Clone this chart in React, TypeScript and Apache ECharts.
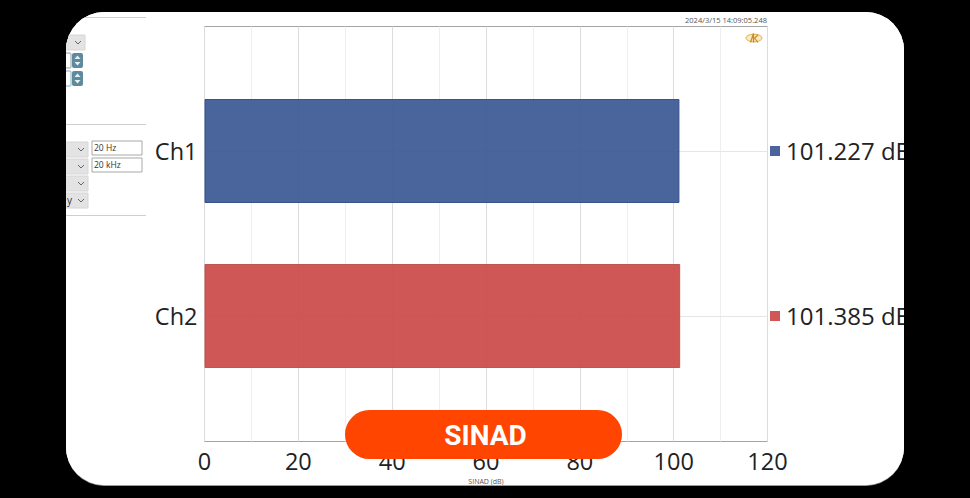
import React, { useEffect, useRef } from "react";
import * as echarts from "echarts";

const categories = ["Ch1", "Ch2"];
const sinadValues = [101.227, 101.385];
const barColors = ["#3a5893", "#cb4946"];
const legendColors = ["#4a659c", "#cf5855"];
const barBorders = ["#2f4c86", "#bb4f4c"];
const readouts = ["101.227 dB", "101.385 dB"];
const xTicks = [0, 20, 40, 60, 80, 100, 120];
const xAxisTitle = "SINAD (dB)";
const timestamp = "2024/3/15 14:09:05.248";
const badge = "SINAD";
const freqLow = "20 Hz";
const freqHigh = "20 kHz";

const OX = 66;
const OY = 12;
const W = 838;
const H = 473;
const FONT = "'Open Sans', 'Noto Sans', sans-serif";

function dropdown(x: number, y: number, w: number, text?: string) {
  const items: any[] = [
    { type: "rect", shape: { x, y, width: w, height: 15 }, style: { fill: "#e3e3e3", stroke: "#d6d6d6", lineWidth: 1 } },
    { type: "polyline", shape: { points: [[x + w - 10, y + 6], [x + w - 7, y + 9], [x + w - 4, y + 6]] }, style: { fill: "none", stroke: "#666", lineWidth: 1 } },
  ];
  if (text) items.push({ type: "text", x: 1, y: y + 2, style: { text, font: `10px ${FONT}`, fill: "#333" } });
  return items;
}

function spinner(x: number, y: number) {
  return [
    { type: "rect", shape: { x, y, width: 11, height: 15, r: 2 }, style: { fill: "#5f8a9e" } },
    { type: "polygon", shape: { points: [[x + 2.5, y + 6], [x + 5.5, y + 2.5], [x + 8.5, y + 6]] }, style: { fill: "#e8f0f4" } },
    { type: "polygon", shape: { points: [[x + 2.5, y + 9], [x + 5.5, y + 12.5], [x + 8.5, y + 9]] }, style: { fill: "#e8f0f4" } },
  ];
}

function inputBox(x: number, y: number, text: string) {
  return [
    { type: "rect", shape: { x, y, width: 50, height: 14 }, style: { fill: "#fff", stroke: "#a8a8a8", lineWidth: 1 } },
    { type: "text", x: x + 2, y: y + 2, style: { text, font: `8.5px ${FONT}`, fill: "#333" } },
  ];
}

function rule(y: number) {
  return { type: "line", shape: { x1: 0, y1: y, x2: 80, y2: y }, style: { stroke: "#cfcfcf", lineWidth: 1 } };
}

export default function App() {
  const ref = useRef<HTMLDivElement>(null);

  useEffect(() => {
    document.body.style.margin = "0";
    document.body.style.background = "#000";
    const chart = echarts.init(ref.current!, undefined, { renderer: "svg" });
    const plotLeft = 204.5 - OX;
    const plotTop = 26.5 - OY;
    const plotWidth = 563;
    const plotHeight = 415;
    const barTop = 68.5 - OY;
    const barHeight = 330;
    const lx = 754 - OX;
    const ly = 38 - OY;

    chart.setOption({
      animation: false,
      backgroundColor: "#ffffff",
      grid: [
        { left: plotLeft, top: plotTop, width: plotWidth, height: plotHeight, show: true, borderColor: "#a4a4a4", borderWidth: 1, backgroundColor: "transparent", outerBoundsMode: "none" },
        { left: plotLeft, top: barTop, width: plotWidth, height: barHeight, outerBoundsMode: "none" },
      ],
      xAxis: [
        {
          gridIndex: 0,
          type: "value",
          min: 0,
          max: 120,
          interval: 20,
          name: xAxisTitle,
          nameLocation: "middle",
          nameGap: 36,
          nameTextStyle: { fontSize: 7, color: "#555", fontFamily: FONT },
          axisLine: { show: false },
          axisTick: { show: false },
          axisLabel: {
            fontSize: 23.5,
            color: "#222",
            fontFamily: FONT,
            margin: 7,
            formatter: (v: number) => (xTicks.includes(v) ? String(v) : ""),
          },
          splitLine: { show: true, lineStyle: { color: "#dcdcdc", width: 1 } },
          minorTick: { show: false, splitNumber: 2 },
          minorSplitLine: { show: true, lineStyle: { color: "#efefef", width: 1 } },
        },
        { gridIndex: 1, type: "value", min: 0, max: 120, show: false },
      ],
      yAxis: [
        { gridIndex: 0, type: "value", min: 0, max: 1, show: false },
        {
          gridIndex: 1,
          type: "category",
          data: categories,
          inverse: true,
          axisLine: { show: false },
          axisTick: { show: false },
          splitLine: { show: false },
          axisLabel: { fontSize: 23.5, color: "#222", fontFamily: FONT, margin: 7 },
        },
      ],
      series: [
        {
          type: "bar",
          xAxisIndex: 1,
          yAxisIndex: 1,
          barWidth: 104,
          z: 3,
          data: sinadValues.map((value, i) => ({
            value,
            itemStyle: { color: barColors[i], borderColor: barBorders[i], borderWidth: 1, opacity: 0.92 },
          })),
          markLine: {
            silent: true,
            symbol: "none",
            z: 1,
            label: { show: false },
            lineStyle: { color: "#e6e6e6", width: 1, type: "solid" },
            data: categories.map((c) => ({ yAxis: c })),
          },
        },
      ],
      graphic: [
        ...categories.flatMap((_, i) => {
          const cy = 151 + i * 165 - OY;
          return [
            { type: "rect", shape: { x: 770 - OX, y: cy - 5, width: 10, height: 10 }, style: { fill: legendColors[i] } },
            { type: "text", x: 786 - OX, y: cy - 1, style: { text: readouts[i], font: `24px ${FONT}`, fill: "#222", verticalAlign: "middle" } },
          ];
        }),
        { type: "text", x: 767 - OX, y: 20 - OY, style: { text: timestamp, font: `7.5px ${FONT}`, fill: "#555", align: "right", verticalAlign: "middle" } },
        { type: "ellipse", shape: { cx: lx, cy: ly, rx: 8, ry: 3.8 }, style: { fill: "#fbe9c4", stroke: "#e3a93e", lineWidth: 1 } },
        { type: "polyline", shape: { points: [[lx - 3.5, ly + 4.5], [lx - 0.5, ly - 4.5], [lx - 0.5, ly + 4.5]] }, style: { fill: "none", stroke: "#c98a22", lineWidth: 1.2 } },
        { type: "polyline", shape: { points: [[lx + 4, ly - 3], [lx + 0.5, ly], [lx + 4, ly + 4.5]] }, style: { fill: "none", stroke: "#c98a22", lineWidth: 1.2 } },
        {
          type: "group",
          x: 0,
          y: 0,
          children: [
            rule(5.5),
            rule(112.5),
            rule(203.5),
            ...dropdown(-10, 23, 29),
            { type: "rect", shape: { x: -6, y: 41, width: 11, height: 15, r: 1 }, style: { fill: "#fff", stroke: "#9a9a9a", lineWidth: 1 } },
            { type: "rect", shape: { x: -6, y: 59, width: 11, height: 15, r: 1 }, style: { fill: "#fff", stroke: "#7fb0c4", lineWidth: 1 } },
            ...spinner(6, 41),
            ...spinner(6, 59),
            ...dropdown(-10, 130, 32),
            ...dropdown(-10, 147, 32),
            ...dropdown(-10, 164, 32),
            ...dropdown(-10, 181, 32, "y"),
            ...inputBox(26, 129, freqLow),
            ...inputBox(26, 146, freqHigh),
          ],
        },
        { type: "rect", z: 50, shape: { x: 345 - OX, y: 410 - OY, width: 277, height: 49, r: 24.5 }, style: { fill: "#ff4500" } },
        { type: "text", z: 51, x: 485.5 - OX, y: 435 - OY, style: { text: badge, font: `bold 28px Roboto, sans-serif`, fill: "#fff", align: "center", verticalAlign: "middle" } },
      ],
    });
    return () => chart.dispose();
  }, []);

  return (
    <div style={{ position: "relative", width: 970, height: 498, background: "#000", overflow: "hidden" }}>
      <div style={{ position: "absolute", left: OX, top: OY, width: W, height: H, borderRadius: 38, overflow: "hidden", background: "#fff", boxShadow: "0 1px 0 #9a9a9a" }}>
        <div ref={ref} style={{ width: W, height: H }} />
      </div>
    </div>
  );
}
